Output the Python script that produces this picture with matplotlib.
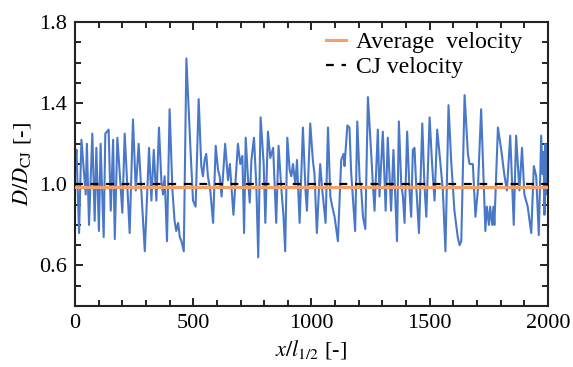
import matplotlib

matplotlib.use("Agg")
import matplotlib.pyplot as plt
from matplotlib.ticker import MultipleLocator, FixedLocator

plt.rcParams["font.family"] = ["Liberation Serif", "DejaVu Serif"]
plt.rcParams["mathtext.fontset"] = "stix"

# velocity ratio D/D_CJ (turning points)
x_pos = [
    0, 6, 17, 27, 45, 50, 59, 73, 83, 90, 101, 108, 121, 128, 142, 151, 161, 168,
    179, 200, 210, 231, 245, 257, 269, 295, 313, 323, 333, 344, 355, 365, 372, 379,
    389, 400, 412, 421, 428, 436, 443, 450, 460, 471, 488, 499, 510, 523, 534, 541,
    548, 555, 562, 572, 584, 595, 605, 612, 620, 635, 647, 655, 670, 689, 699, 708,
    715, 722, 731, 739, 746, 757, 767, 775, 785, 798, 805, 816, 826, 838, 851, 861,
    872, 882, 889, 898, 908, 915, 922, 932, 939, 950, 964, 975, 981, 995, 1006, 1013,
    1023, 1037, 1046, 1060, 1070, 1080, 1088, 1098, 1112, 1126, 1136, 1140, 1152,
    1161, 1168, 1175, 1185, 1194, 1204, 1211, 1218, 1228, 1239, 1253, 1260, 1267,
    1281, 1288, 1302, 1314, 1323, 1337, 1347, 1362, 1370, 1380, 1387, 1394, 1405,
    1415, 1422, 1429, 1436, 1443, 1455, 1469, 1478, 1486, 1500, 1511, 1521, 1532,
    1542, 1556, 1567, 1580, 1591, 1605, 1619, 1627, 1634, 1648, 1662, 1669, 1683,
    1694, 1704, 1718, 1729, 1736, 1742, 1751, 1756, 1765, 1770, 1774, 1789, 1803,
    1817, 1827, 1841, 1849, 1856, 1866, 1880, 1891, 1901, 1915, 1930, 1941, 1951,
    1962, 1972, 1978, 1982, 1986, 1990, 1994, 2000,
]
d_ratio = [
    1.10, 1.17, 0.76, 1.22, 0.95, 1.20, 0.80, 1.25, 0.82, 1.18, 0.77, 1.20, 0.74, 1.25, 1.27, 0.87, 1.22, 0.73,
    1.23, 0.86, 1.25, 0.76, 1.32, 0.97, 1.20, 0.67, 1.18, 0.92, 1.17, 0.92, 1.28, 1.02, 0.95, 1.04,
    0.72, 1.37, 0.97, 0.82, 0.77, 0.81, 0.74, 0.72, 0.67, 1.62, 1.18, 0.92, 0.89, 1.42, 1.09, 1.04,
    1.12, 1.15, 1.04, 0.97, 0.81, 1.19, 1.07, 1.04, 0.94, 1.20, 1.02, 1.10, 0.85, 1.20, 1.10, 1.14,
    0.76, 1.23, 1.04, 0.91, 1.12, 1.23, 0.99, 0.64, 1.33, 1.10, 0.81, 1.26, 1.13, 1.18, 0.81, 1.19,
    0.99, 0.84, 0.67, 1.23, 1.07, 1.04, 1.10, 1.00, 1.12, 0.81, 1.28, 0.97, 0.87, 1.30, 1.12, 1.05,
    0.76, 1.10, 0.97, 0.81, 1.28, 0.94, 0.89, 0.84, 0.72, 1.12, 1.15, 1.09, 1.29,
    1.28, 1.06, 0.94, 0.77, 1.31, 1.02, 0.97, 0.84, 0.78, 1.43, 1.15, 1.00, 0.87,
    1.27, 0.94, 1.26, 0.87, 1.23, 0.87, 1.17, 0.72, 1.31, 1.00, 0.94, 0.81, 1.26,
    0.97, 0.84, 1.17, 1.18, 1.00, 0.76, 1.30, 1.00, 0.84, 1.33, 1.09, 0.92, 1.27,
    1.15, 0.97, 0.67, 1.39, 1.12, 0.87, 0.74, 0.70, 0.72, 1.44, 1.15, 1.10, 1.10,
    0.84, 0.97, 1.37, 1.00, 0.77, 0.89, 0.80, 0.89, 0.80, 0.89, 0.80, 1.28, 1.17,
    1.04, 0.97, 1.24, 1.00, 0.80, 1.24, 0.97, 1.18, 0.95, 0.89, 0.76, 1.09, 1.04,
    0.75, 1.24, 1.05, 1.16, 0.85, 1.20, 0.95, 1.15,
]
avg_velocity = 0.987
cj_velocity = 1.0

fig = plt.figure(figsize=(5.73, 3.67), dpi=100)
ax = fig.add_axes([0.131, 0.166, 0.825, 0.774])

ax.plot(x_pos, d_ratio, color="#4A78C8", linewidth=1.5, zorder=2, solid_joinstyle="round")
ax.axhline(avg_velocity, color="#F4A06A", linewidth=2.2, label="Average  velocity", zorder=3)
ax.axhline(cj_velocity, color="black", linestyle=(0, (3.5, 3.5)), linewidth=1.6,
           label="CJ velocity", zorder=4)

ax.set_xlim(0, 2000)
ax.set_ylim(0.4, 1.8)
ax.xaxis.set_major_locator(MultipleLocator(500))
ax.xaxis.set_minor_locator(MultipleLocator(100))
ax.yaxis.set_major_locator(FixedLocator([0.6, 1.0, 1.4, 1.8]))
ax.yaxis.set_minor_locator(MultipleLocator(0.1))
ax.tick_params(which="both", direction="in", top=True, right=True, labelsize=16, width=1.2)
ax.tick_params(which="major", length=6, pad=6)
ax.tick_params(which="minor", length=4)
for sp in ax.spines.values():
    sp.set_linewidth(1.5)
    sp.set_color("#222222")

ax.set_xlabel(r"$x/l_{1/2}$ [-]", fontsize=16, labelpad=3)
ax.set_ylabel(r"$D/D_{\mathrm{CJ}}$ [-]", fontsize=16, labelpad=4)
ax.legend(loc="upper right", bbox_to_anchor=(0.947, 0.965), frameon=False, fontsize=17,
          handlelength=0.85, borderaxespad=0, borderpad=0, labelspacing=0.12,
          handletextpad=0.45)

fig.savefig("out.png", dpi=100)
